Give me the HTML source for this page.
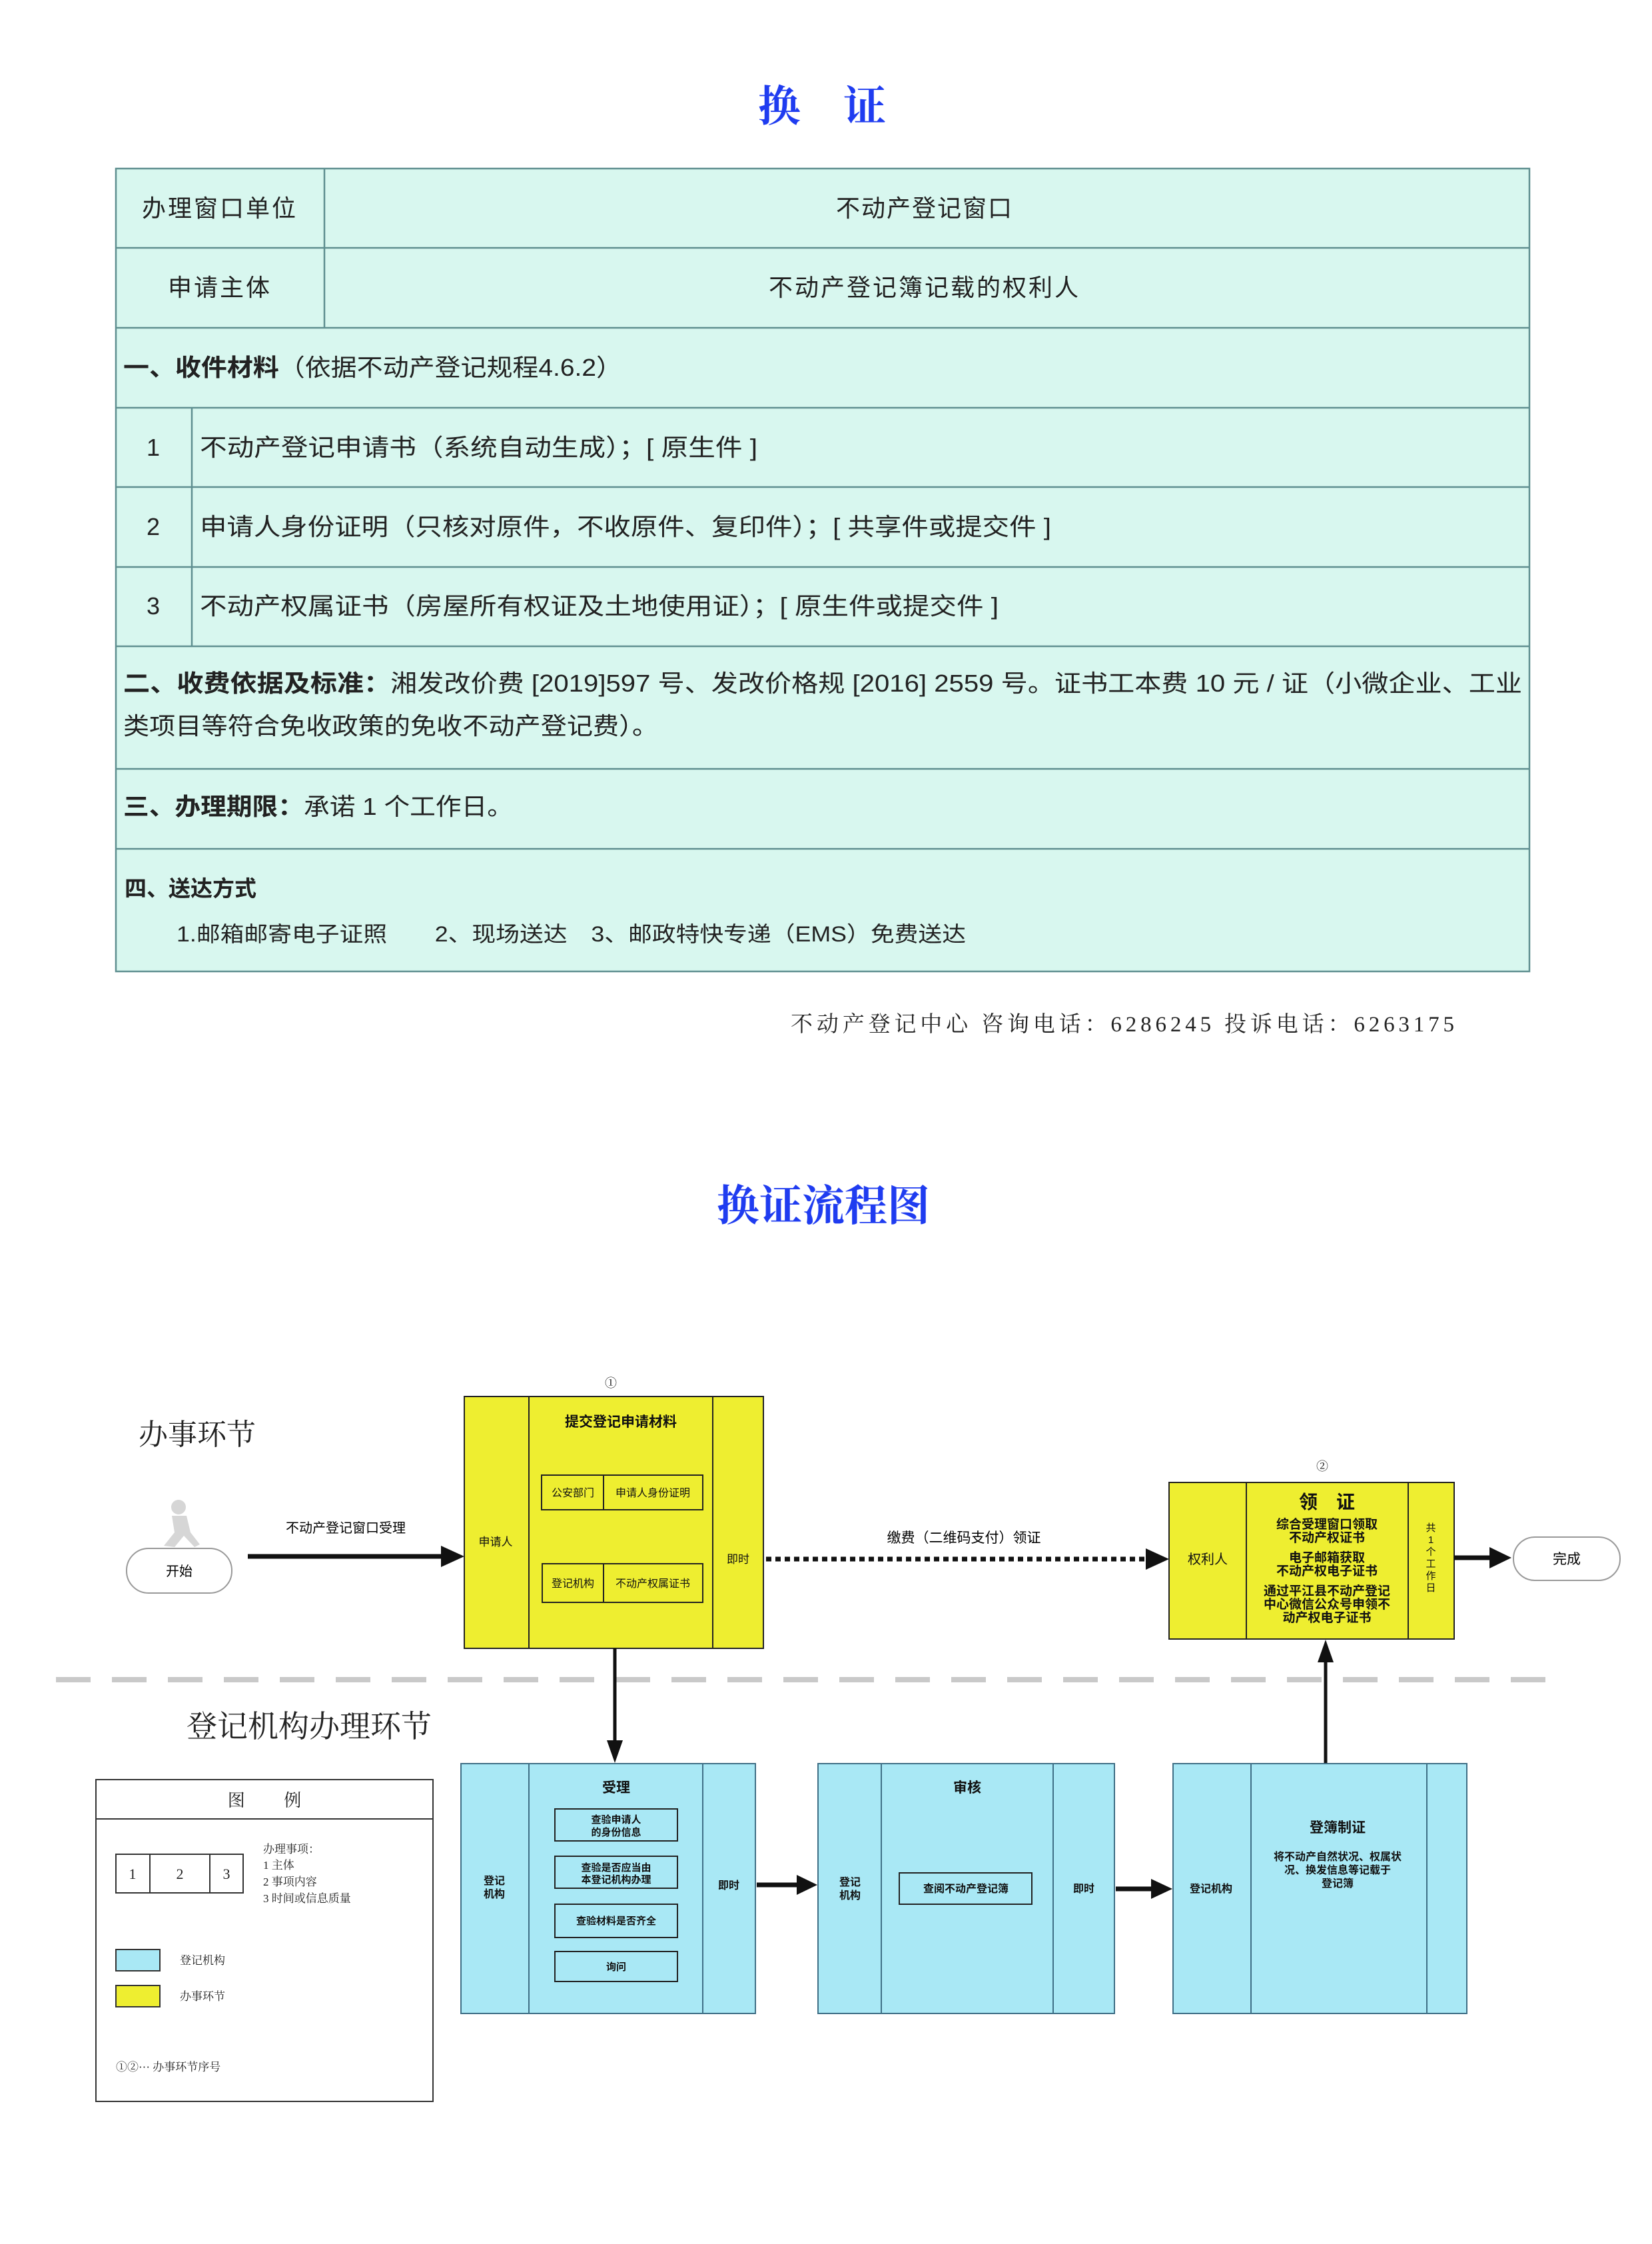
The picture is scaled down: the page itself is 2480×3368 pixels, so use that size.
<!DOCTYPE html>
<html><head><meta charset="utf-8"><style>
html,body{margin:0;padding:0;background:#fff;}
svg{display:block;}
.s{font-family:"Liberation Sans","Noto Sans CJK SC",sans-serif;}
.r{font-family:"Liberation Serif","Noto Serif CJK SC",serif;}
</style></head><body>
<svg width="2480" height="3368" viewBox="0 0 2480 3368" xmlns="http://www.w3.org/2000/svg">
<rect width="2480" height="3368" fill="#fff"/>
<!-- Title -->
<text x="1234" y="182" class="r" font-size="64" font-weight="bold" fill="#1f3cf0" text-anchor="middle">换　证</text>
<!-- Table -->
<g stroke="#5f8f90" stroke-width="2.5" fill="#d8f7ef">
<rect x="174" y="253" width="2122" height="1205"/>
<line x1="174" y1="372" x2="2296" y2="372"/>
<line x1="174" y1="492" x2="2296" y2="492"/>
<line x1="174" y1="612" x2="2296" y2="612"/>
<line x1="174" y1="731" x2="2296" y2="731"/>
<line x1="174" y1="851" x2="2296" y2="851"/>
<line x1="174" y1="970" x2="2296" y2="970"/>
<line x1="174" y1="1154" x2="2296" y2="1154"/>
<line x1="174" y1="1274" x2="2296" y2="1274"/>
<line x1="487" y1="253" x2="487" y2="492"/>
<line x1="288" y1="612" x2="288" y2="970"/>
</g>
<g class="s" font-size="36" fill="#222">
<text x="330" y="325" text-anchor="middle" letter-spacing="3">办理窗口单位</text>
<text x="330" y="444" text-anchor="middle" letter-spacing="3">申请主体</text>
<text x="1388" y="325" text-anchor="middle" letter-spacing="2">不动产登记窗口</text>
<text x="1388" y="444" text-anchor="middle" letter-spacing="3">不动产登记簿记载的权利人</text>
<text x="185" y="564" textLength="749" lengthAdjust="spacingAndGlyphs"><tspan font-weight="bold">一、收件材料</tspan>（依据不动产登记规程4.6.2）</text>
<text x="230" y="684" text-anchor="middle">1</text>
<text x="230" y="803" text-anchor="middle">2</text>
<text x="230" y="922" text-anchor="middle">3</text>
<text x="300" y="684" textLength="837" lengthAdjust="spacingAndGlyphs">不动产登记申请书（系统自动生成）；[ 原生件 ]</text>
<text x="300" y="803" textLength="1278" lengthAdjust="spacingAndGlyphs">申请人身份证明（只核对原件，不收原件、复印件）；[ 共享件或提交件 ]</text>
<text x="300" y="922" textLength="1199" lengthAdjust="spacingAndGlyphs">不动产权属证书（房屋所有权证及土地使用证）；[ 原生件或提交件 ]</text>
<text x="185" y="1038" textLength="2100" lengthAdjust="spacingAndGlyphs"><tspan font-weight="bold">二、收费依据及标准：</tspan>湘发改价费 [2019]597 号、发改价格规 [2016] 2559 号。证书工本费 10 元 / 证（小微企业、工业</text>
<text x="185" y="1102" textLength="803" lengthAdjust="spacingAndGlyphs">类项目等符合免收政策的免收不动产登记费）。</text>
<text x="185" y="1223" textLength="585" lengthAdjust="spacingAndGlyphs"><tspan font-weight="bold">三、办理期限：</tspan>承诺 1 个工作日。</text>
<text x="187" y="1345" font-size="33" font-weight="bold">四、送达方式</text>
<text x="265" y="1413" font-size="32" textLength="1185" lengthAdjust="spacingAndGlyphs">1.邮箱邮寄电子证照　　2、现场送达　3、邮政特快专递（EMS）免费送达</text>
</g>
<text x="1187" y="1548" class="r" font-size="33" fill="#222" textLength="996" lengthAdjust="spacing">不动产登记中心  咨询电话：6286245    投诉电话：6263175</text>
<!-- Flow title -->
<text x="1236" y="1832" class="r" font-size="64" font-weight="bold" fill="#1f3cf0" text-anchor="middle">换证流程图</text>

<!-- Section labels -->
<text x="208" y="2168" class="r" font-size="44" fill="#222">办事环节</text>
<text x="280" y="2607" class="r" font-size="46" fill="#222">登记机构办理环节</text>
<!-- dashed separator -->
<line x1="84" y1="2521" x2="2324" y2="2521" stroke="#c9c9c9" stroke-width="8" stroke-dasharray="52 32"/>

<!-- runner -->
<g fill="#d6d6d6">
<circle cx="268" cy="2262" r="11"/>
<path d="M258 2275 L280 2275 L286 2300 L300 2318 L292 2322 L276 2305 L262 2322 L246 2320 L262 2300 Z"/>
</g>
<!-- start ellipse -->
<rect x="190" y="2324" width="158" height="67" rx="33" fill="#fff" stroke="#999" stroke-width="2"/>
<text x="269" y="2365" class="s" font-size="20" text-anchor="middle">开始</text>
<!-- arrow start -> box1 -->
<line x1="372" y1="2336" x2="665" y2="2336" stroke="#111" stroke-width="7"/>
<polygon points="662,2320 697,2336 662,2352" fill="#111"/>
<text x="519" y="2300" class="s" font-size="20" text-anchor="middle">不动产登记窗口受理</text>

<!-- yellow box1 -->
<text x="917" y="2082" class="r" font-size="18" text-anchor="middle">①</text>
<g stroke="#222" stroke-width="2">
<rect x="697" y="2096" width="449" height="378" fill="#eeee30"/>
<line x1="794" y1="2096" x2="794" y2="2474"/>
<line x1="1070" y1="2096" x2="1070" y2="2474"/>
<rect x="813" y="2214" width="242" height="52" fill="none"/>
<line x1="906" y1="2214" x2="906" y2="2266"/>
<rect x="814" y="2347" width="241" height="58" fill="none"/>
<line x1="906" y1="2347" x2="906" y2="2405"/>
</g>
<g class="s" fill="#111" text-anchor="middle">
<text x="932" y="2141" font-size="21" font-weight="bold">提交登记申请材料</text>
<text x="860" y="2246" font-size="16">公安部门</text>
<text x="980" y="2246" font-size="16">申请人身份证明</text>
<text x="860" y="2382" font-size="16">登记机构</text>
<text x="980" y="2382" font-size="16">不动产权属证书</text>
<text x="744" y="2320" font-size="17">申请人</text>
<text x="1108" y="2346" font-size="17">即时</text>
</g>

<!-- dotted arrow -->
<line x1="1150" y1="2340" x2="1722" y2="2340" stroke="#111" stroke-width="7" stroke-dasharray="8 6"/>
<polygon points="1720,2324 1755,2340 1720,2356" fill="#111"/>
<text x="1447" y="2315" class="s" font-size="21" text-anchor="middle">缴费（二维码支付）领证</text>

<!-- yellow box2 -->
<text x="1985" y="2207" class="r" font-size="18" text-anchor="middle">②</text>
<g stroke="#222" stroke-width="2">
<rect x="1755" y="2225" width="428" height="235" fill="#eeee30"/>
<line x1="1871" y1="2225" x2="1871" y2="2460"/>
<line x1="2114" y1="2225" x2="2114" y2="2460"/>
</g>
<g class="s" fill="#111" text-anchor="middle" font-weight="bold">
<text x="1992" y="2264" font-size="28">领　证</text>
<text x="1992" y="2294" font-size="19">综合受理窗口领取</text>
<text x="1992" y="2314" font-size="19">不动产权证书</text>
<text x="1992" y="2344" font-size="19">电子邮箱获取</text>
<text x="1992" y="2364" font-size="19">不动产权电子证书</text>
<text x="1992" y="2394" font-size="19">通过平江县不动产登记</text>
<text x="1992" y="2414" font-size="19">中心微信公众号申领不</text>
<text x="1992" y="2434" font-size="19">动产权电子证书</text>
<text x="1813" y="2347" font-size="20" font-weight="normal">权利人</text>
</g>
<g class="s" fill="#111" text-anchor="middle" font-size="15">
<text x="2148" y="2298">共</text>
<text x="2148" y="2316">1</text>
<text x="2148" y="2334">个</text>
<text x="2148" y="2352">工</text>
<text x="2148" y="2370">作</text>
<text x="2148" y="2388">日</text>
</g>
<!-- arrow to 完成 -->
<line x1="2183" y1="2338" x2="2240" y2="2338" stroke="#111" stroke-width="7"/>
<polygon points="2236,2322 2269,2338 2236,2354" fill="#111"/>
<rect x="2272" y="2307" width="160" height="65" rx="32" fill="#fff" stroke="#999" stroke-width="2"/>
<text x="2352" y="2347" class="s" font-size="21" text-anchor="middle">完成</text>

<!-- down arrow -->
<line x1="923" y1="2474" x2="923" y2="2615" stroke="#111" stroke-width="5"/>
<polygon points="911,2612 923,2646 935,2612" fill="#111"/>
<!-- up arrow -->
<line x1="1990" y1="2647" x2="1990" y2="2492" stroke="#111" stroke-width="5"/>
<polygon points="1978,2495 1990,2461 2002,2495" fill="#111"/>

<!-- blue boxes -->
<g stroke="#3f6f86" stroke-width="2" fill="#a9e8f5">
<rect x="692" y="2647" width="442" height="375"/>
<line x1="794" y1="2647" x2="794" y2="3022"/>
<line x1="1055" y1="2647" x2="1055" y2="3022"/>
<rect x="1228" y="2647" width="445" height="375"/>
<line x1="1323" y1="2647" x2="1323" y2="3022"/>
<line x1="1581" y1="2647" x2="1581" y2="3022"/>
<rect x="1761" y="2647" width="441" height="375"/>
<line x1="1878" y1="2647" x2="1878" y2="3022"/>
<line x1="2142" y1="2647" x2="2142" y2="3022"/>
</g>
<g stroke="#222" stroke-width="2" fill="none">
<rect x="833" y="2715" width="184" height="48"/>
<rect x="833" y="2786" width="184" height="48"/>
<rect x="833" y="2858" width="184" height="50"/>
<rect x="833" y="2929" width="184" height="45"/>
<rect x="1350" y="2811" width="199" height="47"/>
</g>
<g class="s" fill="#111" text-anchor="middle" font-weight="bold">
<text x="925" y="2690" font-size="21">受理</text>
<text x="925" y="2736" font-size="15">查验申请人</text>
<text x="925" y="2755" font-size="15">的身份信息</text>
<text x="925" y="2808" font-size="15">查验是否应当由</text>
<text x="925" y="2826" font-size="15">本登记机构办理</text>
<text x="925" y="2888" font-size="15">查验材料是否齐全</text>
<text x="925" y="2957" font-size="15">询问</text>
<text x="742" y="2828" font-size="16">登记</text>
<text x="742" y="2848" font-size="16">机构</text>
<text x="1094" y="2835" font-size="16">即时</text>
<text x="1452" y="2690" font-size="21">审核</text>
<text x="1450" y="2840" font-size="16">查阅不动产登记簿</text>
<text x="1276" y="2830" font-size="16">登记</text>
<text x="1276" y="2850" font-size="16">机构</text>
<text x="1627" y="2840" font-size="16">即时</text>
<text x="2008" y="2750" font-size="21">登簿制证</text>
<text x="2008" y="2792" font-size="16">将不动产自然状况、权属状</text>
<text x="2008" y="2812" font-size="16">况、换发信息等记载于</text>
<text x="2008" y="2832" font-size="16">登记簿</text>
<text x="1818" y="2840" font-size="16">登记机构</text>
</g>
<!-- horizontal arrows between blue boxes -->
<line x1="1136" y1="2829" x2="1200" y2="2829" stroke="#111" stroke-width="7"/>
<polygon points="1196,2814 1227,2829 1196,2844" fill="#111"/>
<line x1="1675" y1="2835" x2="1732" y2="2835" stroke="#111" stroke-width="7"/>
<polygon points="1728,2820 1760,2835 1728,2850" fill="#111"/>

<!-- legend -->
<g stroke="#333" stroke-width="2" fill="none">
<rect x="144" y="2671" width="506" height="483"/>
<line x1="144" y1="2730" x2="650" y2="2730"/>
<rect x="174" y="2783" width="191" height="58"/>
<line x1="225" y1="2783" x2="225" y2="2841"/>
<line x1="315" y1="2783" x2="315" y2="2841"/>
<rect x="174" y="2926" width="66" height="32" fill="#a9e8f5"/>
<rect x="174" y="2980" width="66" height="32" fill="#eeee30"/>
</g>
<g class="r" fill="#222">
<text x="397" y="2711" font-size="26" text-anchor="middle">图　　 例</text>
<text x="199" y="2820" font-size="22" text-anchor="middle">1</text>
<text x="270" y="2820" font-size="22" text-anchor="middle">2</text>
<text x="340" y="2820" font-size="22" text-anchor="middle">3</text>
<text x="395" y="2781" font-size="17">办理事项：</text>
<text x="395" y="2805" font-size="17">1 主体</text>
<text x="395" y="2830" font-size="17">2 事项内容</text>
<text x="395" y="2855" font-size="17">3 时间或信息质量</text>
<text x="270" y="2948" font-size="17">登记机构</text>
<text x="270" y="3002" font-size="17">办事环节</text>
<text x="174" y="3108" font-size="17">①②···  办事环节序号</text>
</g>
</svg>
</body></html>
